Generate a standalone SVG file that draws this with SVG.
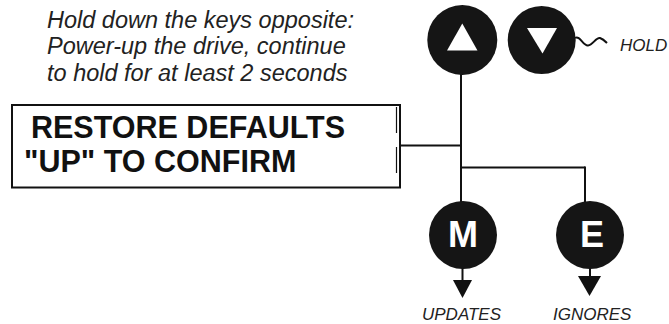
<svg xmlns="http://www.w3.org/2000/svg" width="669" height="324" viewBox="0 0 669 324">
<style>
.note{font-family:"Liberation Sans",Arial,sans-serif;font-style:italic;font-size:23.5px;fill:#222}
.lbl{font-family:"Liberation Sans",Arial,sans-serif;font-style:italic;font-size:17px;fill:#222}
.disp{font-family:"Liberation Sans",Arial,sans-serif;font-weight:bold;font-size:30.5px;fill:#111}
.key{fill:#151515}
.kl{font-family:"Liberation Sans",Arial,sans-serif;font-weight:bold;font-size:36px;fill:#fff;text-anchor:middle}
.ln{stroke:#111;stroke-width:2;fill:none}
.head{fill:#111}
</style>
<rect width="669" height="324" fill="#fff"/>
<g id="instructions">
<text class="note" x="47" y="28">Hold down the keys opposite:</text>
<text class="note" x="47" y="54">Power-up the drive, continue</text>
<text class="note" x="47" y="81">to hold for at least 2 seconds</text>
</g>
<g id="display">
<rect x="12" y="105" width="388" height="82.5" fill="#fff" stroke="#111" stroke-width="2"/>
<line x1="396.5" y1="107" x2="396.5" y2="133" stroke="#111" stroke-width="1.2"/>
<line x1="396.5" y1="147" x2="396.5" y2="173" stroke="#111" stroke-width="1.2"/>
<text class="disp" x="31" y="138">RESTORE DEFAULTS</text>
<text class="disp" x="24" y="172">"UP" TO CONFIRM</text>
</g>
<g id="connectors">
<line class="ln" x1="461" y1="74" x2="461" y2="202"/>
<line class="ln" x1="400" y1="145.5" x2="461" y2="145.5"/>
<line class="ln" x1="461" y1="167.5" x2="585" y2="167.5"/>
<line class="ln" x1="585" y1="166.5" x2="585" y2="203"/>
<line class="ln" x1="462.5" y1="266" x2="462.5" y2="281"/>
<polygon class="head" points="453,280 472,280 462.5,298"/>
<line class="ln" x1="590" y1="266" x2="590" y2="277"/>
<polygon class="head" points="578,276 601,276 589.5,296"/>
<path class="ln" d="M575,38 C580,35 583,46 588,45.5 C593,45 596,37 600,38 C603,39 605,41 607,43" stroke-width="1.5"/>
</g>
<g id="key-up">
<circle class="key" cx="462.3" cy="40" r="35"/>
<polygon points="462.3,23.5 447,50.5 477.5,50.5" fill="#fff"/>
</g>
<g id="key-down">
<circle class="key" cx="541.7" cy="40" r="34"/>
<polygon points="527,28 557,28 542.5,53.5" fill="#fff"/>
</g>
<g id="hold-label">
<text class="lbl" x="620" y="51">HOLD</text>
</g>
<g id="key-m">
<circle class="key" cx="463" cy="235" r="34"/>
<text class="kl" x="463" y="247">M</text>
</g>
<g id="key-e">
<circle class="key" cx="590" cy="235" r="34"/>
<text class="kl" x="592" y="247">E</text>
</g>
<g id="labels">
<text class="lbl" x="422" y="320">UPDATES</text>
<text class="lbl" x="553" y="320">IGNORES</text>
</g>
</svg>
